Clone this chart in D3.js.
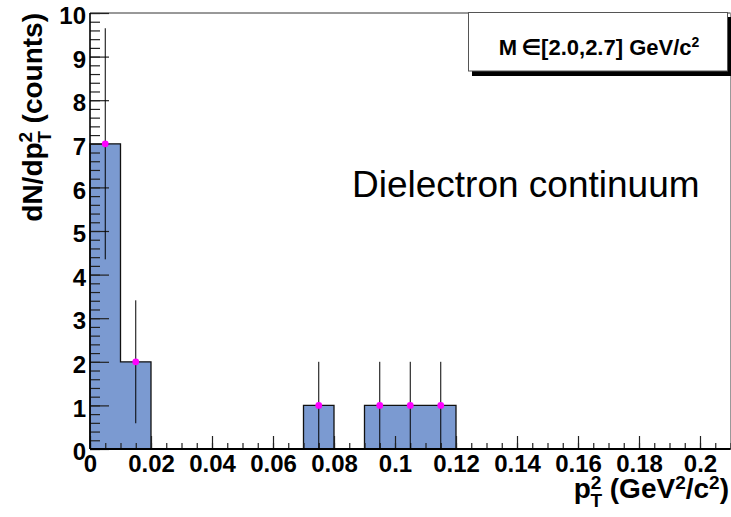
<!DOCTYPE html>
<html>
<head>
<meta charset="utf-8">
<script src="https://cdn.jsdelivr.net/npm/d3@7"></script>
<style>
  html, body { margin: 0; padding: 0; background: #fff; }
  svg { display: block; font-family: "Liberation Sans", Arial, "DejaVu Sans", sans-serif; }
</style>
</head>
<body>
<svg id="chart" width="731" height="517"></svg>
<script>
// ---- data ----
const binLowEdges = [0.00, 0.01, 0.07, 0.09, 0.10, 0.11];
const binCounts   = [7, 2, 1, 1, 1, 1];
const binErrors   = [2.65, 1.41, 1, 1, 1, 1];
const binWidth = 0.01;
const nBins = 21;
const xTickValues = [0, 0.02, 0.04, 0.06, 0.08, 0.1, 0.12, 0.14, 0.16, 0.18, 0.2];
const yTickValues = [0, 1, 2, 3, 4, 5, 6, 7, 8, 9, 10];
const xDomain = [0, 0.21];
const yDomain = [0, 10];

// ---- layout ----
const svg = d3.select("#chart");
const L = 90, R = 730.5, T = 13, B = 449;
const x = d3.scaleLinear().domain(xDomain).range([L, R]);
const y = d3.scaleLinear().domain(yDomain).range([B, T]);
const fillColor = "#7b9ad1";

// full histogram (zero bins included) for step outline
const full = d3.range(nBins).map(i => ({lo: i * binWidth, v: 0}));
binLowEdges.forEach((lo, k) => { full[Math.round(lo / binWidth)].v = binCounts[k]; });
const pts = [{lo: 0, v: 0}].concat(full).concat([{lo: nBins * binWidth, v: 0}]);

svg.append("path")
  .datum(pts)
  .attr("fill", fillColor)
  .attr("d", d3.area().curve(d3.curveStepAfter).x(d => x(d.lo)).y0(y(0)).y1(d => y(d.v)));

svg.append("path")
  .datum(pts)
  .attr("fill", "none")
  .attr("stroke", "#111")
  .attr("stroke-width", 1.3)
  .attr("d", d3.line().curve(d3.curveStepAfter).x(d => x(d.lo)).y(d => y(d.v)));

// frame top/right
svg.append("line").attr("x1", L).attr("x2", R).attr("y1", T).attr("y2", T)
  .attr("stroke", "#333").attr("stroke-width", 1);
svg.append("line").attr("x1", R).attr("x2", R).attr("y1", T).attr("y2", B)
  .attr("stroke", "#999").attr("stroke-width", 1);

// ---- axes ----
const fmt = d3.format("~g");
const xMinor = svg.append("g").attr("transform", `translate(0,${B})`)
  .call(d3.axisBottom(x).tickValues(d3.range(0, 43).map(i => i * 0.005)).tickSize(-6).tickFormat(""));
const xMajor = svg.append("g").attr("transform", `translate(0,${B})`)
  .call(d3.axisBottom(x).tickValues(xTickValues).tickSize(-13).tickPadding(6).tickFormat(fmt));
const yMinor = svg.append("g").attr("transform", `translate(${L},0)`)
  .call(d3.axisLeft(y).tickValues(d3.range(0, 51).map(i => i * 0.2)).tickSize(-10).tickFormat(""));
const yMajor = svg.append("g").attr("transform", `translate(${L},0)`)
  .call(d3.axisLeft(y).tickValues(yTickValues).tickSize(-19).tickPadding(4).tickFormat(fmt));

[xMinor, xMajor, yMinor, yMajor].forEach(g => {
  g.select(".domain").remove();
  g.selectAll(".tick line").attr("stroke", "#222").attr("stroke-width", 1.2);
});
xMajor.selectAll(".tick text")
  .attr("font-size", 24).attr("font-weight", "bold").attr("fill", "#000")
  .attr("font-family", "Liberation Sans, Arial, sans-serif")
  .attr("dy", null).attr("y", 23);
yMajor.selectAll(".tick text")
  .attr("font-size", 24).attr("font-weight", "bold").attr("fill", "#000")
  .attr("font-family", "Liberation Sans, Arial, sans-serif")
  .attr("dy", "0.32em").attr("y", 3);

// axis lines
svg.append("line").attr("x1", L).attr("x2", R).attr("y1", B).attr("y2", B)
  .attr("stroke", "#000").attr("stroke-width", 2);
svg.append("line").attr("x1", L).attr("x2", L).attr("y1", T).attr("y2", B)
  .attr("stroke", "#000").attr("stroke-width", 1.6);

// ---- error bars & markers ----
const pts2 = binLowEdges.map((lo, k) => ({c: lo + binWidth / 2, v: binCounts[k], e: binErrors[k]}));
svg.append("g").selectAll("line").data(pts2).join("line")
  .attr("x1", d => x(d.c)).attr("x2", d => x(d.c))
  .attr("y1", d => y(d.v - d.e)).attr("y2", d => y(d.v + d.e))
  .attr("stroke", "#000").attr("stroke-width", 1);
svg.append("g").selectAll("circle").data(pts2).join("circle")
  .attr("cx", d => x(d.c)).attr("cy", d => y(d.v)).attr("r", 3.4)
  .attr("fill", "#ff00ff");

// ---- axis titles ----
const xt = svg.append("text").attr("x", 729).attr("y", 498)
  .attr("text-anchor", "end").attr("font-size", 28).attr("font-weight", "bold");
xt.append("tspan").text("p");
xt.append("tspan").attr("font-size", 19).attr("dy", -9).text("2");
xt.append("tspan").attr("font-size", 19).attr("dx", -11).attr("dy", 18).text("T");
xt.append("tspan").attr("dy", -9).text(" (GeV");
xt.append("tspan").attr("font-size", 19).attr("dy", -9).text("2");
xt.append("tspan").attr("dy", 9).text("/c");
xt.append("tspan").attr("font-size", 19).attr("dy", -9).text("2");
xt.append("tspan").attr("dy", 9).text(")");

const yt = svg.append("text").attr("transform", "translate(42,13) rotate(-90)")
  .attr("text-anchor", "end").attr("font-size", 28).attr("font-weight", "bold");
yt.append("tspan").text("dN/dp");
yt.append("tspan").attr("font-size", 19).attr("dy", -10).text("2");
yt.append("tspan").attr("font-size", 19).attr("dx", -11).attr("dy", 19).text("T");
yt.append("tspan").attr("dy", -9).text(" (counts)");

// ---- annotation ----
svg.append("text").attr("x", 352).attr("y", 197)
  .attr("font-size", 37).attr("fill", "#000").text("Dielectron continuum");

// ---- legend box ----
svg.append("rect").attr("x", 472).attr("y", 17).attr("width", 259).attr("height", 59).attr("fill", "#000");
svg.append("rect").attr("x", 468.5).attr("y", 12.5).attr("width", 259).attr("height", 58.5)
  .attr("fill", "#fff").attr("stroke", "#555").attr("stroke-width", 1);
const lt = svg.append("text").attr("x", 599).attr("y", 55).attr("text-anchor", "middle")
  .attr("font-size", 22).attr("font-weight", "bold");
lt.append("tspan").text("M\u2009\u2208[2.0,2.7] GeV/c");
lt.append("tspan").attr("font-size", 14).attr("dy", -8).text("2");
</script>
</body>
</html>
